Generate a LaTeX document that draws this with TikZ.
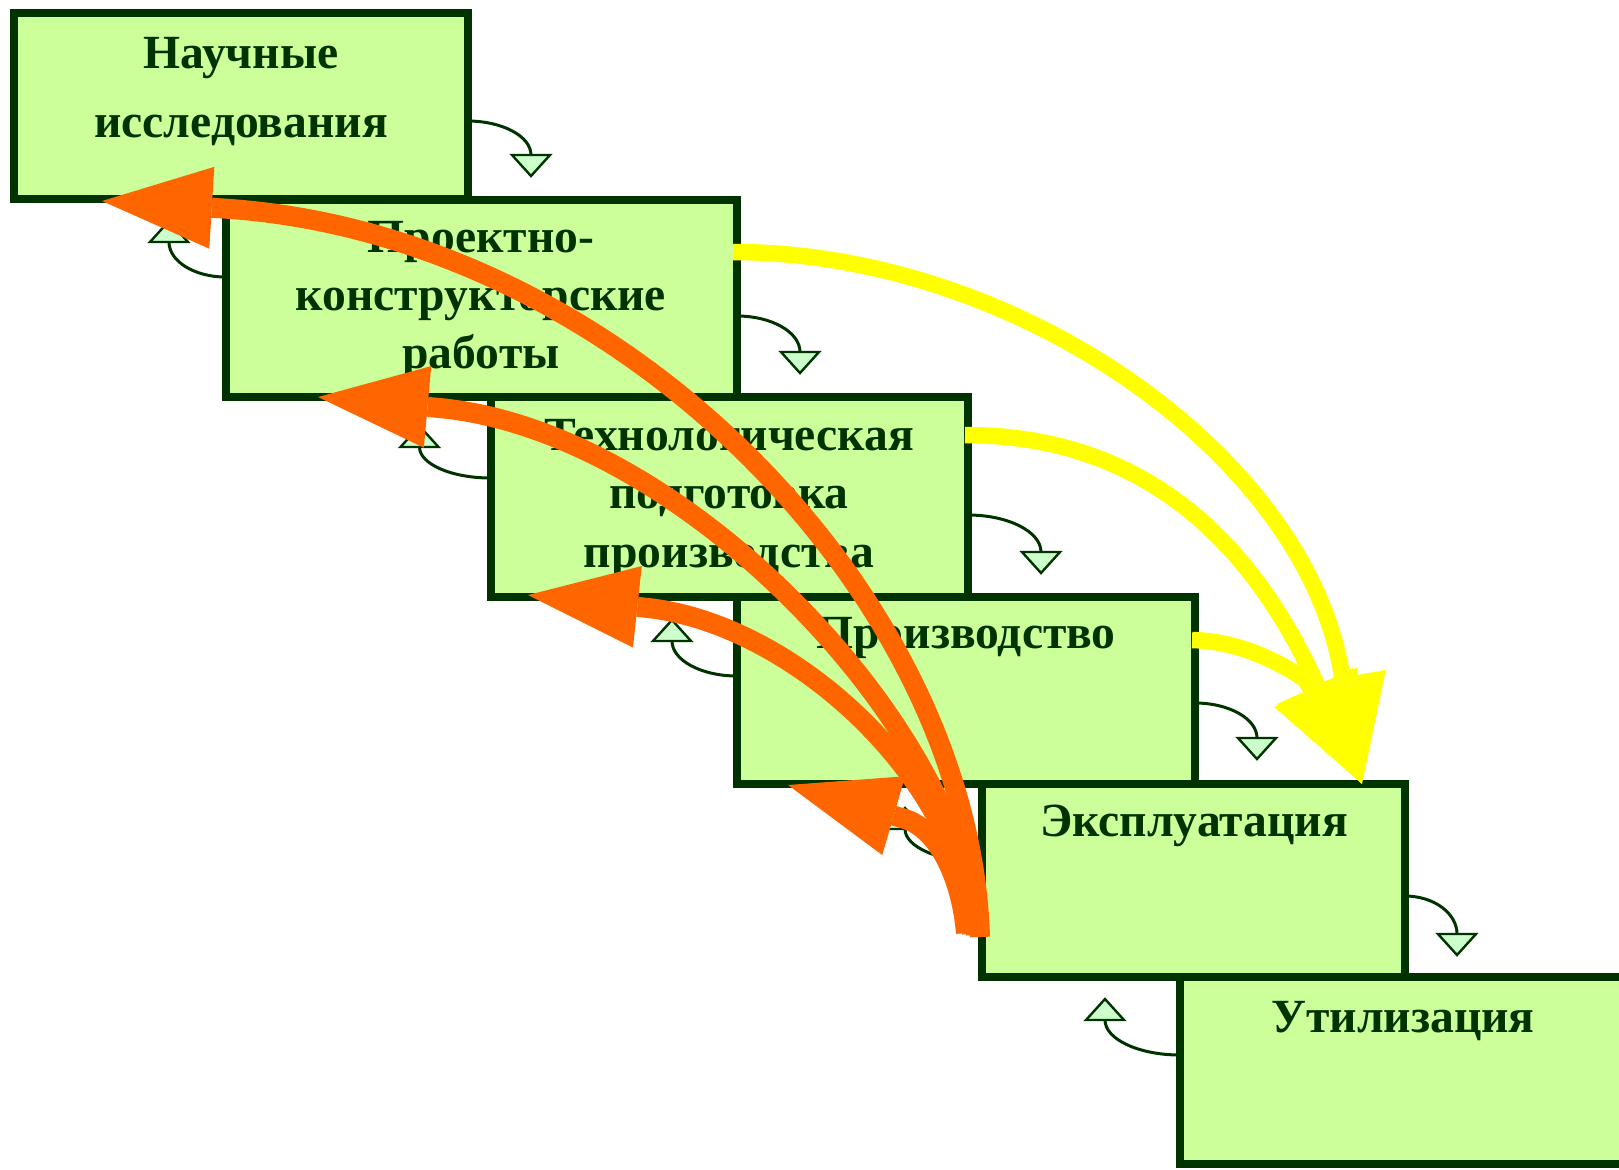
\documentclass[tikz,border=0pt]{standalone}
\usepackage{fontspec}
\setmainfont{Liberation Serif}
\usetikzlibrary{arrows.meta,fit}

\definecolor{stagefill}{HTML}{CCFF99}
\definecolor{stageline}{HTML}{003300}
\definecolor{hookfill}{HTML}{CCFFCC}
\definecolor{backflow}{HTML}{FF6600}
\definecolor{forwardflow}{HTML}{FFFF00}

% small hook arrow leaving a stage on the right: anchor, drop below it, run right, fall to the triangle
\newcommand\hookdown[4]{%
  \begin{scope}[shift={([shift={(0,#2)}]#1)}]
    \draw[hookline] (0,0) .. controls ({0.55*#3},0) and (#3,{0.45*#4}) .. (#3,#4);
    \draw[hooktip] ({#3-19},#4) -- ({#3+19},#4) -- (#3,{#4+21}) -- cycle;
  \end{scope}}
% small hook arrow leaving a stage on the left: anchor, drop below it, run left, rise to the triangle
\newcommand\hookup[4]{%
  \begin{scope}[shift={([shift={(0,#2)}]#1)}]
    \draw[hookline] (0,0) .. controls ({0.55*#3},0) and (#3,{0.45*#4}) .. (#3,#4);
    \draw[hooktip] ({#3-19},#4) -- ({#3+19},#4) -- (#3,{#4-21}) -- cycle;
  \end{scope}}

\begin{document}
\begin{tikzpicture}[x=0.5pt,y=-0.5pt,
  stage/.style={draw=stageline, line width=4pt, fill=stagefill, inner sep=0pt, outer sep=0pt},
  caption/.style={font=\fontsize{23.8pt}{28pt}\selectfont\bfseries, text=stageline, anchor=base, inner sep=0pt},
  hookline/.style={draw=stageline, line width=1.5pt},
  hooktip/.style={draw=stageline, fill=hookfill, line width=1.2pt, line join=miter},
  forward/.style={draw=forwardflow, line width=8.25pt, -{Triangle[length=54pt,width=44pt,line width=0pt]}},
  backward/.style={draw=backflow, line width=10pt, -{Triangle[length=55pt,width=41pt,line width=0pt]}}
]
\useasboundingbox (0,0) rectangle (1619,1169);
\clip (0,0) rectangle (1619,1169);
\fill[white] (0,0) rectangle (1619,1169);

% stages of the life cycle, stepping down to the right
\node[stage, fit={(14,12.5) (467.5,199)}] (b1) {};
\node[stage, fit={(225.5,200) (737,397)}] (b2) {};
\node[stage, fit={(490.5,397) (968,597)}] (b3) {};
\node[stage, fit={(737,597) (1195,784)}] (b4) {};
\node[stage, fit={(982,784) (1405,977)}] (b5) {};
\node[stage, fit={(1180,977) (1650,1164)}] (b6) {};

% stage names
\node[caption] (t1a) at (241,68) {Научные};
\node[caption] (t1b) at (241,137) {исследования};
\node[caption] (t2a) at (481,252) {Проектно-};
\node[caption] (t2b) at (481,310) {конструкторские};
\node[caption] (t2c) at (481,368) {работы};
\node[caption] (t3a) at (729,450) {Технологическая};
\node[caption] (t3b) at (729,508) {подготовка};
\node[caption] (t3c) at (729,567) {производства};
\node[caption] (t4a) at (966,648) {Производство};
\node[caption] (t5a) at (1194,836) {Эксплуатация};
\node[caption] (t6a) at (1403,1032) {Утилизация};

% hooks to the next stage
\hookdown{b1.north east}{108.5}{63.5}{34}
\hookdown{b2.north east}{116}{63}{36}
\hookdown{b3.north east}{118}{73}{37}
\hookdown{b4.north east}{106}{62}{35}
\hookdown{b5.north east}{112}{52}{38}
% hooks back to the previous stage
\hookup{b2.north west}{77}{-56.5}{-35}
\hookup{b3.north west}{81}{-71}{-31}
\hookup{b4.north west}{79}{-65}{-35}
\hookup{b5.north west}{78}{-77}{-33}
\hookup{b6.north west}{78}{-75}{-35}

% forward links into operation
\coordinate (y2s) at ([shift={(-4,52)}]b2.north east);
\coordinate (y3s) at ([shift={(-3,38)}]b3.north east);
\coordinate (y4s) at ([shift={(-3,43)}]b4.north east);
\coordinate (ytip) at ([shift={(380,0)}]b5.north west);
\draw[forward] (y2s) .. controls (1013,252) and (1300,450.7) .. (1340.5,667) -- (ytip);
\draw[forward] (y3s) .. controls (1155,435) and (1257.9,555.6) .. (1316,683) -- (ytip);
\draw[forward] (y4s) .. controls (1240,641) and (1282,663) .. (1312,684) -- (ytip);

% feedback from operation to every earlier stage
\coordinate (o1s) at ([shift={(-2,153)}]b5.north west);
\coordinate (o2s) at ([shift={(-6,151)}]b5.north west);
\coordinate (o3s) at ([shift={(-10,150)}]b5.north west);
\coordinate (o4s) at ([shift={(-16,149)}]b5.north west);
\coordinate (o1t) at ([shift={(88,2)}]b1.south west);
\coordinate (o2t) at ([shift={(92.5,0)}]b2.south west);
\coordinate (o3t) at ([shift={(37.5,-2)}]b3.south west);
\coordinate (o4t) at ([shift={(51,1)}]b4.south west);
\draw[backward] (o1s) .. controls (970,597) and (621,233.2) .. (222,208.4) -- (o1t);
\draw[backward] (o2s) .. controls (968,735) and (686.5,430.2) .. (437.5,407.8) -- (o2t);
\draw[backward] (o3s) .. controls (965,784) and (796.4,624) .. (647.3,607.9) -- (o3t);
\draw[backward] (o4s) .. controls (962,885) and (941.6,829.5) .. (903.2,818.4) -- (o4t);
\end{tikzpicture}
\end{document}
